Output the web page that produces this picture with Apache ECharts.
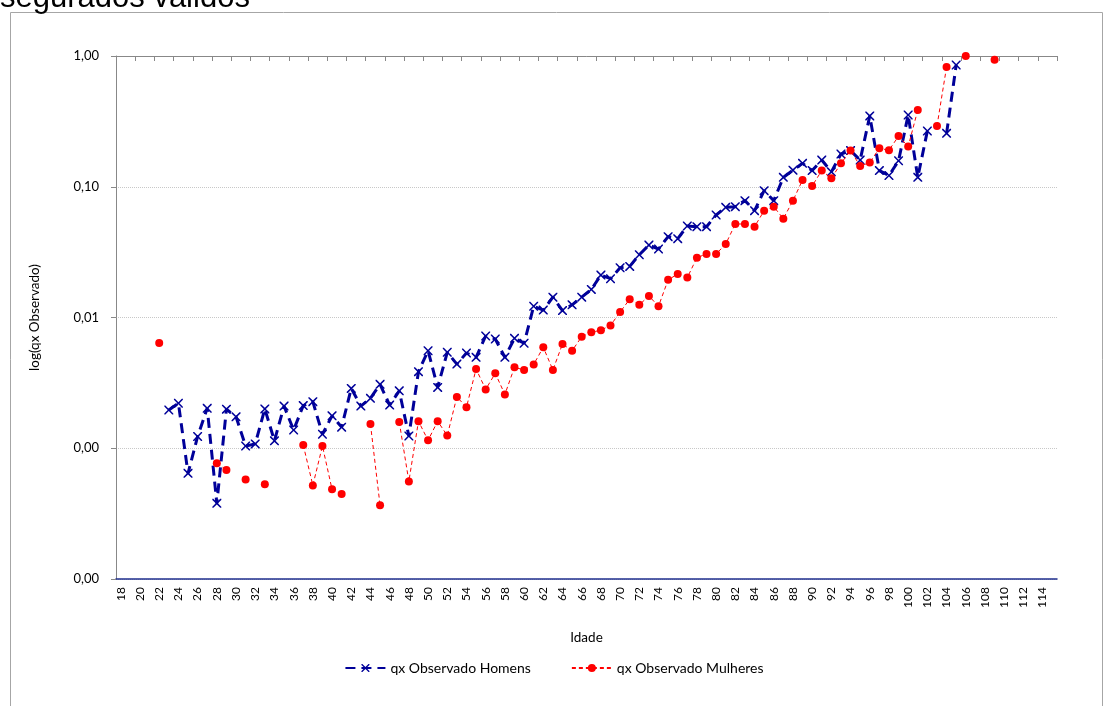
<!DOCTYPE html>
<html>
<head>
<meta charset="utf-8">
<script src="https://cdn.jsdelivr.net/npm/echarts@6/dist/echarts.min.js"></script>
<style>
  html, body { margin: 0; padding: 0; background: #fff; }
  #main { width: 1108px; height: 706px; }
</style>
</head>
<body>
<div id="main"></div>
<script>
// idades (categorias)
var idades = [18,19,20,21,22,23,24,25,26,27,28,29,30,31,32,33,34,35,36,37,38,39,40,41,42,43,44,45,46,47,
  48,49,50,51,52,53,54,55,56,57,58,59,60,61,62,63,64,65,66,67,68,69,70,71,72,73,74,75,76,77,
  78,79,80,81,82,83,84,85,86,87,88,89,90,91,92,93,94,95,96,97,98,99,100,101,102,103,104,105,106,107,
  108,109,110,111,112,113,114,115];

// qx observado - homens (18..115)
var homens = [
  null,null,null,null,null,0.00196,0.00221,0.000643,0.00123,0.00202,
  0.000379,0.00199,0.00174,0.00104,0.00108,0.0020,0.00114,0.0021,0.00138,0.00212,
  0.00227,0.00128,0.00177,0.00145,0.00287,0.0021,0.00241,0.00308,0.00214,0.00275,
  0.00124,0.00385,0.00557,0.00292,0.00542,0.0044,0.00535,0.00496,0.00722,0.00685,
  0.00496,0.00693,0.00635,0.0122,0.0114,0.0143,0.0113,0.0125,0.0143,0.0164,
  0.0211,0.0198,0.0240,0.0246,0.0302,0.0358,0.0334,0.0415,0.0401,0.0501,
  0.0495,0.0495,0.0608,0.0696,0.0704,0.0783,0.0656,0.0933,0.0783,0.118,
  0.134,0.151,0.133,0.160,0.130,0.178,0.189,0.160,0.348,0.133,
  0.122,0.158,0.354,0.118,0.267,null,0.256,0.853,null,null,
  null,null,null,null,null,null,null,null
];

// qx observado - mulheres (18..115)
var mulheres = [
  null,null,null,null,0.00638,null,null,null,null,null,
  0.000767,0.000682,null,0.000578,null,0.00053,null,null,null,0.00106,
  0.00052,0.00104,0.000485,0.000447,null,null,0.00153,0.000366,null,0.00159,
  0.000558,0.00161,0.00115,0.00161,0.00125,0.00247,0.00206,0.00404,0.00282,0.00374,
  0.00258,0.00416,0.00397,0.00438,0.00592,0.00397,0.00627,0.00557,0.00713,0.0077,
  0.0080,0.0087,0.0110,0.0138,0.0125,0.0146,0.0122,0.0194,0.0215,0.0202,
  0.0287,0.0306,0.0306,0.0365,0.0519,0.0519,0.0495,0.0656,0.0704,0.0570,
  0.0783,0.1126,0.1014,0.133,0.116,0.151,0.189,0.144,0.153,0.197,
  0.190,0.244,0.203,0.386,null,0.291,0.824,null,1.0,null,
  null,0.937,null,null,null,null,null,null
];

var fonte = 'Lato, "Liberation Sans", sans-serif';
var simboloX = 'path://M0,0 L1.2,0 L5,3.8 L8.8,0 L10,0 L10,1.2 L6.2,5 L10,8.8 L10,10 L8.8,10 L5,6.2 L1.2,10 L0,10 L0,8.8 L3.8,5 L0,1.2 Z';

var chart = echarts.init(document.getElementById('main'), null, { renderer: 'canvas' });

var option = {
  animation: false,
  backgroundColor: '#fff',
  textStyle: { fontFamily: fonte },
  graphic: [
    {
      type: 'rect', left: 8, top: 10, silent: true,
      shape: { width: 1092, height: 720 },
      style: { fill: 'none', stroke: '#a6a6a6', lineWidth: 1 }
    },
    {
      type: 'text', left: 0, top: -17,
      style: { text: 'segurados válidos', font: '31px "Liberation Sans", Arial, sans-serif', fill: '#000' }
    }
  ],
  grid: { left: 116, right: 51, top: 56, bottom: 127 },
  legend: {
    bottom: 26,
    left: 'center',
    itemGap: 40,
    itemWidth: 40,
    itemHeight: 10,
    textStyle: { fontFamily: fonte, fontSize: 14, color: '#000' },
    data: ['qx Observado Homens', 'qx Observado Mulheres']
  },
  xAxis: [
    {
      type: 'category',
      data: idades,
      position: 'bottom',
      boundaryGap: true,
      name: 'Idade',
      nameLocation: 'middle',
      nameGap: 52,
      nameTextStyle: { fontFamily: fonte, fontSize: 13.5, color: '#000' },
      axisLine: { show: true, lineStyle: { color: '#1f2f8f', width: 1.5 } },
      axisTick: { show: false },
      axisLabel: { interval: 1, rotate: 90, fontSize: 12, color: '#000', margin: 8, fontFamily: fonte },
      splitLine: { show: false }
    },
    {
      type: 'category',
      data: idades,
      position: 'top',
      boundaryGap: true,
      axisLine: { show: true, lineStyle: { color: '#888', width: 1 } },
      axisTick: { show: true, inside: true, interval: 1, length: 5, lineStyle: { color: '#888' } },
      axisLabel: { show: false },
      splitLine: { show: false }
    }
  ],
  yAxis: {
    type: 'log',
    logBase: 10,
    min: 0.0001,
    max: 1,
    name: 'log(qx Observado)',
    nameLocation: 'middle',
    nameGap: 74,
    nameRotate: 90,
    nameTextStyle: { fontFamily: fonte, fontSize: 13.5, color: '#000' },
    axisLine: { show: true, lineStyle: { color: '#888' } },
    axisTick: { show: true, length: 5, lineStyle: { color: '#888' } },
    axisLabel: {
      fontSize: 13, color: '#000', margin: 17, fontFamily: fonte,
      formatter: function (v) { return v.toFixed(2).replace('.', ','); }
    },
    splitLine: { show: true, lineStyle: { color: '#c8c8c8', type: 'dotted', width: 1 } },
    minorTick: { show: false }
  },
  series: [
    {
      name: 'qx Observado Homens',
      type: 'line',
      data: homens,
      connectNulls: false,
      symbol: simboloX,
      symbolSize: 9,
      showAllSymbol: true,
      itemStyle: { color: '#000099' },
      lineStyle: { color: '#000099', width: 3, type: [10, 6] },
      z: 3
    },
    {
      name: 'qx Observado Mulheres',
      type: 'line',
      data: mulheres,
      connectNulls: false,
      symbol: 'circle',
      symbolSize: 8,
      showAllSymbol: true,
      itemStyle: { color: '#ff0000' },
      lineStyle: { color: '#ff0000', width: 1, type: [4, 3] },
      z: 4
    }
  ]
};

chart.setOption(option);
</script>
</body>
</html>
